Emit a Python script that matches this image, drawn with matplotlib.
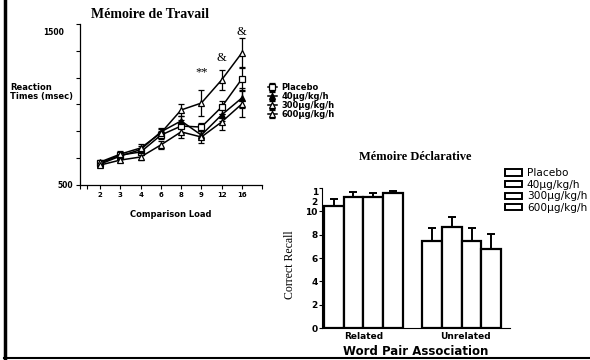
import matplotlib
matplotlib.use('Agg')
import matplotlib.pyplot as plt
import matplotlib.patches as mpatches
from matplotlib.lines import Line2D
import numpy as np

# --- working memory (reaction times) ---
loads = ['2', '3', '4', '6', '8', '9', '12', '16']
rt_placebo = [637, 686, 705, 810, 866, 860, 984, 1158]
rt_40 = [630, 680, 720, 830, 898, 810, 935, 1040]
rt_300 = [643, 692, 730, 823, 966, 1009, 1152, 1320]
rt_600 = [624, 655, 674, 749, 830, 798, 891, 1003]
err_placebo = [15, 20, 20, 25, 40, 25, 40, 70]
err_40 = [15, 20, 20, 25, 30, 25, 40, 60]
err_300 = [15, 20, 25, 25, 40, 80, 60, 90]
err_600 = [15, 15, 20, 25, 40, 40, 50, 80]
rt_marks = ['**', '&', '&']
rt_mark_pos = [5, 6, 7]
rt_mark_y = [1200, 1290, 1450]

# --- declarative memory (correct recall) ---
groups = ['Related', 'Unrelated']
doses = ['Placebo', '40µg/kg/h', '300µg/kg/h', '600µg/kg/h']
recall = [[10.5, 7.5], [11.25, 8.65], [11.2, 7.5], [11.55, 6.8]]
recall_err = [[0.55, 1.1], [0.45, 0.9], [0.35, 1.1], [0.2, 1.25]]

fig = plt.figure(figsize=(5.9, 3.6), dpi=100)

# left panel
ax1 = fig.add_axes([80/590, 1-185/360, 182/590, 161/360])
x = np.arange(1, len(loads) + 1)
series = [(rt_placebo, err_placebo, 's', 'white', 'Placebo'),
          (rt_40, err_40, '^', 'black', '40µg/kg/h'),
          (rt_300, err_300, '^', 'white', '300µg/kg/h'),
          (rt_600, err_600, '^', 'white', '600µg/kg/h')]
for vals, err, mk, fc, lab in series:
    ax1.errorbar(x, vals, yerr=err, color='black', lw=1.1, marker=mk, ms=4,
                 mfc=fc, mec='black', mew=0.9, capsize=2, elinewidth=0.9, label=lab)
for m, p, yy in zip(rt_marks, rt_mark_pos, rt_mark_y):
    ax1.text(x[p], yy, m, ha='center', va='center', fontsize=9,
             family='Liberation Serif')
ax1.set_xlim(0, 9)
ax1.set_ylim(500, 1500)
ax1.set_xticks([0, 0.35] + list(x) + [9])
ax1.set_xticklabels(['', ''] + loads + [''], fontsize=5, fontweight='bold')
ax1.set_yticks(np.linspace(500, 1500, 7))
ax1.set_yticklabels(['500', '', '', '', '', '', ''], fontsize=5.5, fontweight='bold')
ax1.text(-0.09, 1445, '1500', transform=ax1.get_yaxis_transform(), ha='right',
         va='center', fontsize=5.5, fontweight='bold')
ax1.tick_params(length=3, width=0.8, pad=2)
for s in ['top', 'right']:
    ax1.spines[s].set_visible(False)
ax1.spines['left'].set_linewidth(0.9)
ax1.spines['bottom'].set_linewidth(0.9)
ax1.set_xlabel('Comparison Load', fontsize=6, fontweight='bold', labelpad=9)
fig.text(10/590, 1-92/360, 'Reaction\nTimes (msec)', fontsize=6, fontweight='bold',
         ha='left', va='center', linespacing=1.1)
fig.text(150/590, 1-15/360, 'Mémoire de Travail', fontsize=10, fontweight='bold',
         family='Liberation Serif', ha='center', va='center')
ax1.legend(loc='upper left', bbox_to_anchor=(264/590, 1-79/360), bbox_transform=fig.transFigure,
           frameon=False, prop={'size': 6, 'weight': 'bold'}, handlelength=1.0,
           handletextpad=0.6, labelspacing=0.0, borderpad=0)

# right panel
ax2 = fig.add_axes([322/590, 1-328/360, 188/590, 140/360])
for i, d in enumerate(doses):
    pos = [i + 0.5, i + 5.5]
    ax2.bar(pos, recall[i], width=1, color='white', edgecolor='black', lw=1.6,
            yerr=[[0, 0], recall_err[i]], capsize=3,
            error_kw={'elinewidth': 1.4, 'capthick': 1.4}, label=d)
ax2.set_xlim(-0.1, 9.45)
ax2.set_ylim(0, 12)
ax2.set_xticks([2, 7.2])
ax2.set_xticklabels(groups, fontsize=6.5, fontweight='bold')
ax2.tick_params(axis='x', length=0, pad=3)
ax2.set_yticks([0, 2, 4, 6, 8, 10, 12])
ax2.set_yticklabels(['0', '2', '4', '6', '8', '10', '1\n2'], fontsize=6.5, fontweight='bold')
ax2.get_yticklabels()[-1].set_verticalalignment('top')
ax2.tick_params(axis='y', length=2, width=0.8, pad=1)
for s in ['top', 'right']:
    ax2.spines[s].set_visible(False)
ax2.spines['left'].set_linewidth(0.8)
ax2.spines['bottom'].set_linewidth(0.8)
ax2.set_xlabel('Word Pair Association', fontsize=8.5, fontweight='bold', labelpad=3)
fig.text(290/590, 1-265/360, 'Correct Recall', fontsize=8.5, family='Liberation Serif',
         rotation=90, ha='center', va='center')
fig.text(415/590, 1-157/360, 'Mémoire Déclarative', fontsize=9, fontweight='bold',
         family='Liberation Serif', ha='center', va='center')
handles = [mpatches.Rectangle((0, 0), 1, 1, fc='white', ec='black', lw=1.4) for _ in doses]
fig.legend(handles, doses, loc='upper left', bbox_to_anchor=(500/590, 1-163/360),
           frameon=False, fontsize=7.6, handlelength=1.6, handleheight=0.55,
           handletextpad=0.45, labelspacing=0.15, borderpad=0)

# slide frame
fig.add_artist(Line2D([4.5/590, 4.5/590], [2/360, 1], color='black', lw=2.5))
fig.add_artist(Line2D([4/590, 1], [2/360, 2/360], color='black', lw=1.5))

plt.savefig('out.png', dpi=100)
